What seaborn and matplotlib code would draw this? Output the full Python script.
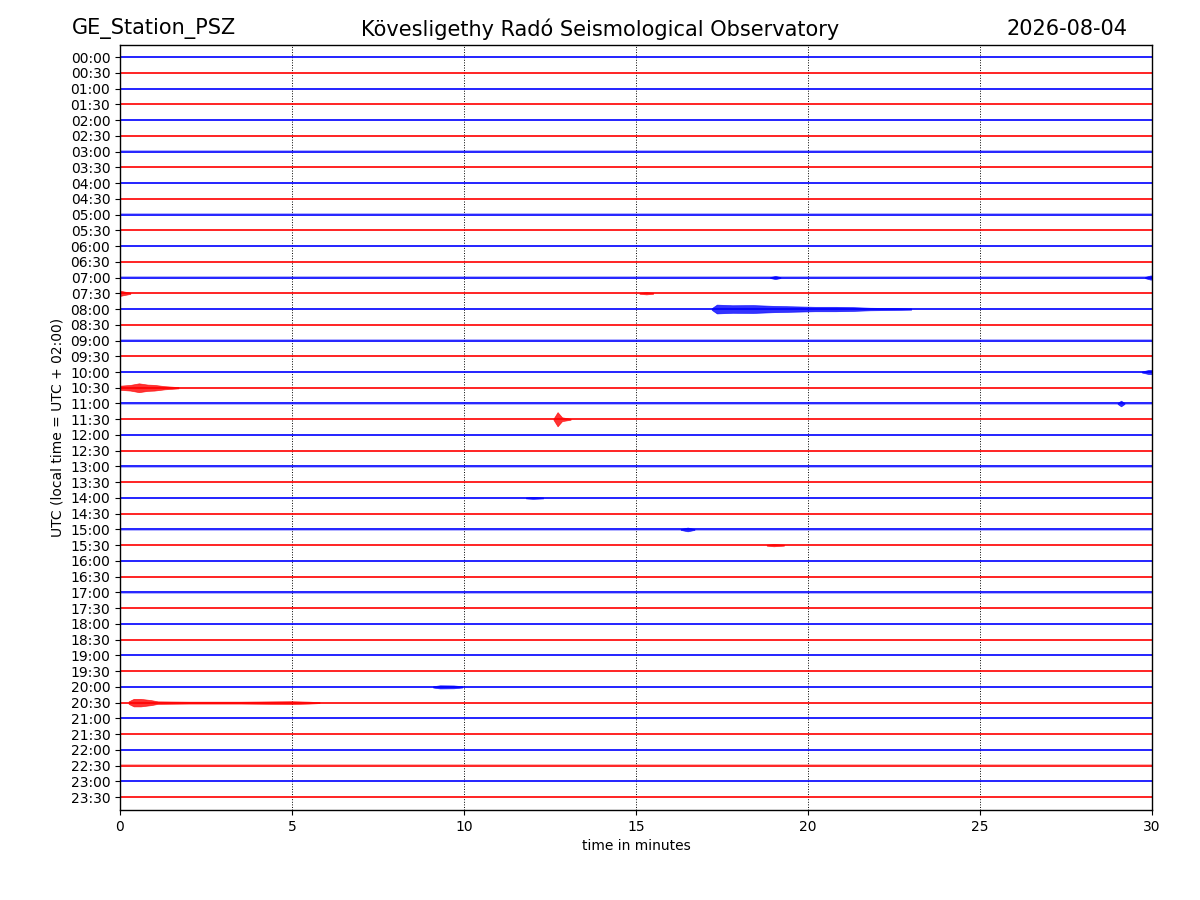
import numpy as np
import pandas as pd
import matplotlib
matplotlib.use("Agg")
import matplotlib.pyplot as plt
import seaborn as sns

# Helicorder rows: one trace every 30 minutes, each row lasts 30 minutes
row_labels = [f"{h:02d}:{m:02d}" for h in range(24) for m in (0, 30)]
row_colors = ["blue" if lab.endswith(":00") else "red" for lab in row_labels]
row_noise = [0.07] * 48           # background noise half-height (trace units)
minute_span = [0.0, 30.0]

# Visible events: row label -> list of (minutes, half-amplitude in trace units)
events = {
    "07:00": [([18.9, 19.05, 19.2], [0.03, 0.1, 0.03]),
              ([29.8, 29.95, 30.0], [0.04, 0.13, 0.13])],
    "07:30": [([0.0, 0.1, 0.3], [0.17, 0.12, 0.04]),
              ([15.1, 15.3, 15.5], [0.03, 0.07, 0.03])],
    "08:00": [([17.2, 17.35, 17.8, 18.4, 19.0, 19.6, 20.2, 20.8, 21.3, 21.8, 22.5, 23.0],
               [0.05, 0.28, 0.24, 0.25, 0.2, 0.17, 0.14, 0.14, 0.12, 0.08, 0.06, 0.04])],
    "10:00": [([29.7, 29.9, 30.0], [0.03, 0.13, 0.13])],
    "10:30": [([0.0, 0.3, 0.55, 0.8, 1.0, 1.3, 1.7], [0.13, 0.18, 0.28, 0.2, 0.18, 0.1, 0.04])],
    "11:00": [([29.0, 29.1, 29.2], [0.03, 0.18, 0.03])],
    "11:30": [([12.6, 12.72, 12.85, 13.1], [0.03, 0.45, 0.12, 0.03])],
    "14:00": [([11.8, 12.0, 12.3], [0.03, 0.06, 0.03])],
    "15:00": [([16.3, 16.5, 16.7], [0.03, 0.12, 0.03])],
    "15:30": [([18.8, 19.0, 19.3], [0.03, 0.07, 0.03])],
    "20:00": [([9.1, 9.3, 9.7, 9.95], [0.04, 0.1, 0.09, 0.04])],
    "20:30": [([0.25, 0.4, 0.6, 0.9, 1.1, 2.0, 3.5, 4.5, 5.0, 5.5, 5.8],
               [0.08, 0.24, 0.24, 0.16, 0.08, 0.06, 0.06, 0.08, 0.09, 0.06, 0.03])],
}

station = "GE_Station_PSZ"
observatory = "Kövesligethy Radó Seismological Observatory"
day = "2026-08-04"

# long table for seaborn: two points per row (start / end of the 30 min window)
df = pd.DataFrame({
    "label": np.repeat(row_labels, 2),
    "minute": minute_span * len(row_labels),
    "offset": np.repeat(np.arange(len(row_labels)), 2),
})

sns.set_style("ticks")
plt.rcParams["font.family"] = ["DejaVu Sans"]
plt.rcParams["text.color"] = "black"
plt.rcParams["axes.labelcolor"] = "black"

fig = plt.figure(figsize=(12, 9), dpi=100)
ax = fig.add_axes([0.1, 0.1, 0.86, 0.85])

# background noise band
for i, (lab, col) in enumerate(zip(row_labels, row_colors)):
    ax.fill_between(minute_span, i - row_noise[i], i + row_noise[i],
                    color=col, alpha=0.3, lw=0)

sns.lineplot(data=df, x="minute", y="offset", hue="label", units="label",
             estimator=None, palette=dict(zip(row_labels, row_colors)),
             legend=False, lw=1.1, ax=ax)

# events drawn as amplitude envelopes
for lab, evs in events.items():
    i = row_labels.index(lab)
    col = row_colors[i]
    for t, a in evs:
        t = np.array(t)
        a = np.array(a)
        ax.fill_between(t, i - a, i + a, color=col, alpha=0.8, lw=0.5, edgecolor=col)

ax.set_xlim(0, 30)
ax.set_ylim(len(row_labels) - 1 + 0.82, -0.77)
ax.set_yticks(range(len(row_labels)))
ax.set_yticklabels(row_labels)
ax.set_xticks([0, 5, 10, 15, 20, 25, 30])
ax.xaxis.grid(True, linestyle=":", color="black", lw=0.7)
ax.yaxis.grid(False)
for s in ax.spines.values():
    s.set_color("black")
    s.set_linewidth(1.0)
ax.tick_params(colors="black", labelsize=10, length=3.5)
ax.set_xlabel("time in minutes", fontsize=10)
ax.set_ylabel("UTC (local time = UTC + 02:00)", fontsize=10)

fig.text(0.06, 0.968, station, fontsize=15, ha="left", va="center")
fig.text(0.5, 0.968, observatory, fontsize=15, ha="center", va="center")
fig.text(0.94, 0.968, day, fontsize=15, ha="right", va="center")

plt.savefig("out.png", dpi=100)
